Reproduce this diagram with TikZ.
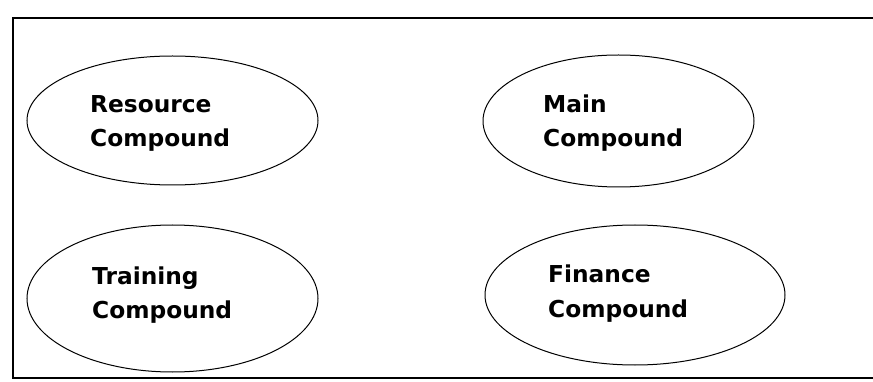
\documentclass[tikz,border=0pt]{standalone}
\usepackage{fontspec}
\setmainfont{DejaVu Sans}
\usetikzlibrary{shapes.geometric}
\tikzset{
  comp/.style={ellipse, draw=black, line width=1pt, inner sep=0pt},
  lab/.style={anchor=base west, inner sep=0pt, font=\fontsize{23.3}{28}\selectfont\bfseries},
  frame/.style={draw=black, line width=2pt}
}
\begin{document}
\begin{tikzpicture}[x=1pt,y=-1pt]
\useasboundingbox (0,0) rectangle (873,382);
\clip (0,0) rectangle (873,382);
\fill[white] (0,0) rectangle (873,382);
\draw[frame] (13,18) rectangle (900,377.5);
\node[comp, minimum width=291pt, minimum height=129pt] (res) at (172.5,120.5) {};
\node[comp, minimum width=271pt, minimum height=132pt] (main) at (618.5,121) {};
\node[comp, minimum width=291pt, minimum height=147pt] (train) at (172.5,298.5) {};
\node[comp, minimum width=300pt, minimum height=140pt] (fin) at (635,295) {};
\node[lab] (resa) at (90,113) {Resource};
\node[lab] (resb) at (90,146.7) {Compound};
\node[lab] (maina) at (543,113) {Main};
\node[lab] (mainb) at (543,146.5) {Compound};
\node[lab] (traina) at (92,284) {Training};
\node[lab] (trainb) at (92,318) {Compound};
\node[lab] (fina) at (548,283) {Finance};
\node[lab] (finb) at (548,317) {Compound};
\end{tikzpicture}
\end{document}
